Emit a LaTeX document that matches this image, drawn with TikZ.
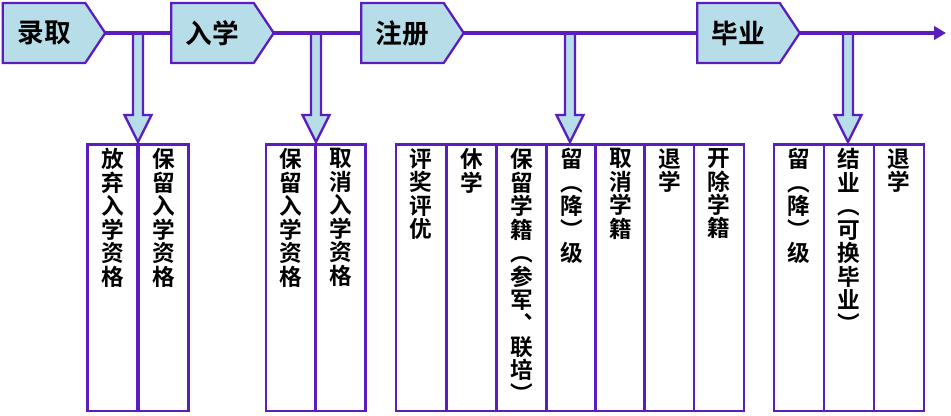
\documentclass[tikz,border=0pt]{standalone}
\usepackage{fontspec}
\newfontfamily\cjk{Noto Sans CJK SC Bold}
\usetikzlibrary{arrows.meta,backgrounds}
\definecolor{lineviolet}{RGB}{90,30,190}
\definecolor{boxaqua}{RGB}{183,222,232}
\tikzstyle{stage} = [minimum width=61.5pt,minimum height=44.5pt,inner sep=0pt,font=\cjk\fontsize{20}{24}\selectfont]
\tikzstyle{stageshape} = [draw=lineviolet,fill=boxaqua,line width=1.7pt,line join=miter]
\tikzstyle{timeline} = [draw=lineviolet,line width=2.5pt]
\tikzstyle{blockarrow} = [draw=lineviolet,fill=boxaqua,line width=1.7pt]
\tikzstyle{column} = [draw=lineviolet,fill=white,line width=1.9pt,anchor=north,minimum width=37.5pt,minimum height=200pt,inner sep=0pt]
\tikzstyle{coltext} = [anchor=north,align=center,inner sep=0pt,font=\cjk\fontsize{17}{17.6}\selectfont]

\begin{document}
\begin{tikzpicture}[x=0.75pt,y=-0.75pt]
\useasboundingbox (0,0) rectangle (951,416);

\foreach \n/\x/\t in {lq/44/录取,rx/212.5/入学,zc/402.5/注册,by/738.5/毕业}
{
\node[stage] (\n) at (\x,33) {\t};
\coordinate (\n-tip) at ([xshift=15pt]\n.east);
\begin{scope}[on background layer]
\draw[stageshape] (\n.north west) -- (\n.north east) -- (\n-tip) -- (\n.south east) -- (\n.south west) -- cycle;
\end{scope}
}
\coordinate (end) at (946,33);

\foreach \x in {138,316,570,848}
{
\draw[blockarrow] (\x-5,33) -- (\x-5,115) -- (\x-13.5,115) -- (\x,142) -- (\x+13.5,115) -- (\x+5,115) -- (\x+5,33) -- cycle;
}

\draw[timeline] (lq-tip) -- (rx.west);
\draw[timeline] (rx-tip) -- (zc.west);
\draw[timeline] (zc-tip) -- (by.west);
\draw[timeline,-{Triangle[length=9pt,width=10pt]}] (by-tip) -- (end);

\foreach \x/\t [count=\i] in {112.5/放\\弃\\入\\学\\资\\格,163.5/保\\留\\入\\学\\资\\格,
 291/保\\留\\入\\学\\资\\格,340.5/取\\消\\入\\学\\资\\格,
 421/评\\奖\\评\\优,471.5/休\\学,521.5/保\\留\\学\\籍\\︵\\参\\军\\︑\\联\\培\\︶,571.5/留\\︵\\降\\︶\\级,
 620.5/取\\消\\学\\籍,669.5/退\\学,719/开\\除\\学\\籍,
 799/留\\︵\\降\\︶\\级,849/结\\业\\︵\\可\\换\\毕\\业\\︶,899/退\\学}
{
\node[column] (col\i) at (\x,143) {};
\node[coltext] (txt\i) at ([yshift=-4pt]col\i.north) {\t};
}

\end{tikzpicture}
\end{document}
